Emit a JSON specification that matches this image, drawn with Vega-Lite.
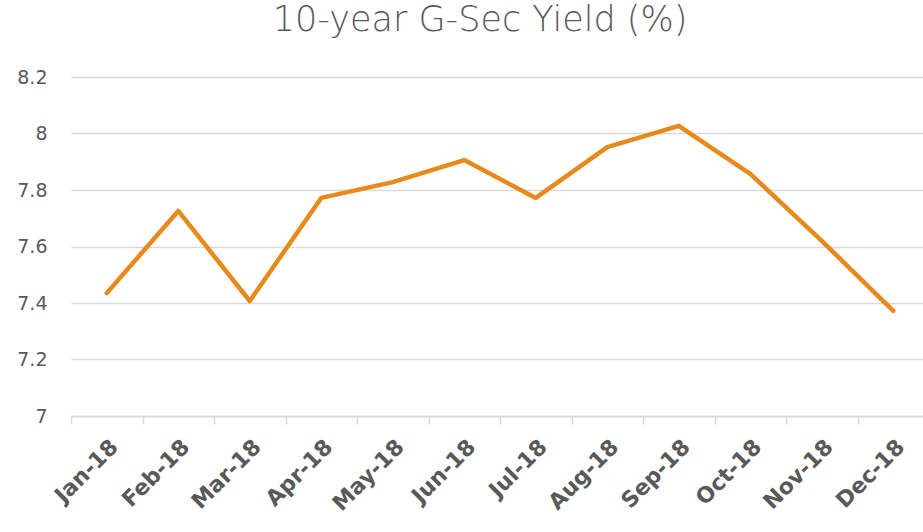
{
  "$schema": "https://vega.github.io/schema/vega-lite/v6.json",
  "autosize": "none",
  "width": 858,
  "height": 339,
  "padding": {"left": 71, "top": 77, "right": 0, "bottom": 116},
  "background": "white",
  "title": {
    "text": "10-year G-Sec Yield (%)",
    "font": "DejaVu Sans",
    "fontWeight": 200,
    "fontSize": 35,
    "color": "#595959",
    "anchor": "middle",
    "dx": -20,
    "offset": 30
  },
  "data": {
    "values": [
      {"month": "Jan-18", "yield": 7.435},
      {"month": "Feb-18", "yield": 7.726},
      {"month": "Mar-18", "yield": 7.407},
      {"month": "Apr-18", "yield": 7.772},
      {"month": "May-18", "yield": 7.828},
      {"month": "Jun-18", "yield": 7.906},
      {"month": "Jul-18", "yield": 7.772},
      {"month": "Aug-18", "yield": 7.952},
      {"month": "Sep-18", "yield": 8.027},
      {"month": "Oct-18", "yield": 7.857},
      {"month": "Nov-18", "yield": 7.62},
      {"month": "Dec-18", "yield": 7.372}
    ]
  },
  "mark": {"type": "line", "color": "#E8891C", "strokeWidth": 4.5, "strokeCap": "round", "strokeJoin": "round"},
  "encoding": {
    "x": {
      "field": "month",
      "type": "ordinal",
      "sort": null,
      "scale": {"type": "band", "paddingInner": 0, "paddingOuter": 0},
      "axis": {
        "title": null,
        "labelAngle": -45,
        "labelFont": "DejaVu Sans",
        "labelFontWeight": "bold",
        "labelFontSize": 22,
        "labelColor": "#595959",
        "labelPadding": 12,
        "bandPosition": 0,
        "tickBand": "extent",
        "domainColor": "#d9d9d9",
        "domainWidth": 1.5,
        "tickColor": "#d9d9d9",
        "tickWidth": 1.5,
        "tickSize": 8,
        "grid": false
      }
    },
    "y": {
      "field": "yield",
      "type": "quantitative",
      "scale": {"domain": [7, 8.2], "zero": false, "nice": false},
      "axis": {
        "title": null,
        "values": [7, 7.2, 7.4, 7.6, 7.8, 8, 8.2],
        "format": "~g",
        "labelFont": "DejaVu Sans",
        "labelFontSize": 19,
        "labelColor": "#595959",
        "labelPadding": 24,
        "ticks": false,
        "domain": false,
        "gridColor": "#d9d9d9",
        "gridWidth": 1.5
      }
    }
  },
  "config": {"view": {"stroke": null}}
}
